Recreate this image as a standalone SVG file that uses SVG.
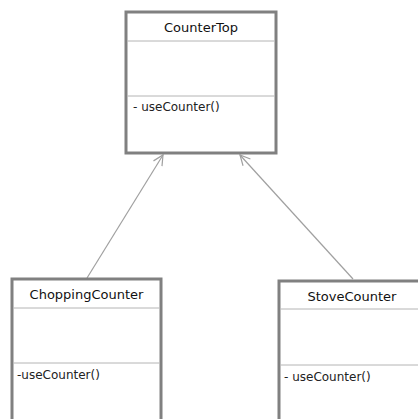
<svg xmlns="http://www.w3.org/2000/svg" width="418" height="419" viewBox="0 0 418 419">
<style>
.box{fill:#fff;stroke:#808080;stroke-width:3}
.div{stroke:#b4b4b4;stroke-width:1}
.name{font-family:"DejaVu Sans",sans-serif;font-size:13px;fill:#111;text-anchor:middle}
.op{font-family:"DejaVu Sans",sans-serif;font-size:12px;fill:#222}
.edge{stroke:#a0a0a0;stroke-width:1.2;fill:none}
</style>
<defs>
<marker id="open" viewBox="0 0 12 12" refX="11" refY="6" markerWidth="12" markerHeight="12" markerUnits="userSpaceOnUse" orient="auto">
<path d="M1,1 L11,6 L1,11" fill="none" stroke="#a0a0a0" stroke-width="1.2"/>
</marker>
</defs>
<g id="connectors">
<line class="edge" x1="87" y1="278" x2="163" y2="155" marker-end="url(#open)"/>
<line class="edge" x1="353" y1="279" x2="240" y2="155" marker-end="url(#open)"/>
</g>
<g id="CounterTop">
<rect class="box" x="126" y="12" width="150" height="141"/>
<line class="div" x1="127.5" y1="41" x2="274.5" y2="41"/>
<line class="div" x1="127.5" y1="96" x2="274.5" y2="96"/>
<text class="name" x="201" y="32">CounterTop</text>
<text class="op" x="133" y="111">- useCounter()</text>
</g>
<g id="ChoppingCounter">
<rect class="box" x="12" y="279" width="149" height="150"/>
<line class="div" x1="13.5" y1="308" x2="159.5" y2="308"/>
<line class="div" x1="13.5" y1="363" x2="159.5" y2="363"/>
<text class="name" x="86.5" y="299">ChoppingCounter</text>
<text class="op" x="17" y="379">-useCounter()</text>
</g>
<g id="StoveCounter">
<rect class="box" x="279" y="281" width="146" height="150"/>
<line class="div" x1="280.5" y1="309" x2="418" y2="309"/>
<line class="div" x1="280.5" y1="365" x2="418" y2="365"/>
<text class="name" x="352" y="301">StoveCounter</text>
<text class="op" x="284" y="381">- useCounter()</text>
</g>
</svg>
